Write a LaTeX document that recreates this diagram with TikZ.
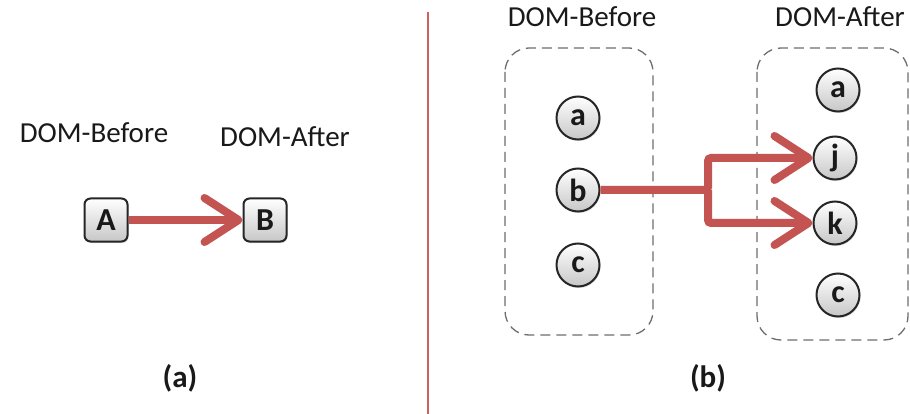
\documentclass[tikz,border=0pt]{standalone}
\usepackage{fontspec}
\setmainfont{Carlito}
\usetikzlibrary{arrows.meta,shadows}
\definecolor{arrred}{RGB}{196,84,82}
\definecolor{sepred}{RGB}{206,96,96}
\definecolor{boxgray}{RGB}{110,110,110}
\definecolor{txt}{RGB}{25,25,25}
\begin{document}
\begin{tikzpicture}[x=1pt,y=-1pt,
  lbl/.style={font=\fontsize{29}{32}\selectfont, text=txt, inner sep=0},
  captxt/.style={font=\bfseries\fontsize{31}{34}\selectfont, text=txt, inner sep=0},
  nodebase/.style={draw=black!85, line width=2pt, minimum size=43pt, inner sep=0,
    top color=white, bottom color=black!22, text=txt,
    font=\bfseries\fontsize{32}{32}\selectfont,
    drop shadow={opacity=0.25,shadow xshift=1pt,shadow yshift=-1.5pt}},
  sq/.style={nodebase, rectangle, rounded corners=6pt},
  circ/.style={nodebase, circle},
  arr/.style={draw=arrred, line width=8pt, rounded corners=3pt,
    -{Straight Barb[length=34pt,width=44pt,round]}},
  grp/.style={draw=boxgray, dash pattern=on 10pt off 6pt, line width=1.3pt, rounded corners=24pt}]

\useasboundingbox (0,0) rectangle (910,414);
\fill[white] (0,0) rectangle (910,414);

% separator
\draw[sepred, line width=2pt] (428,12) -- (428,414);

% ---- part (a)
\node[lbl, anchor=base] (lbA1) at (94,143) {DOM-Before};
\node[lbl, anchor=base] (lbA2) at (285,147) {DOM-After};
\node[sq] (A) at (106,220) {A};
\node[sq] (B) at (265,220) {B};
\draw[arr] (A) -- (B);
\node[captxt, anchor=base] (capa) at (180,387) {(a)};

% ---- part (b)
\node[lbl, anchor=base] (lbB1) at (582,27) {DOM-Before};
\node[lbl, anchor=base] (lbB2) at (840,27) {DOM-After};
\draw[grp] (505,48) rectangle (653,335);
\draw[grp] (757,48) rectangle (908,340);

\node[circ] (a1) at (578,118) {a};
\node[circ] (b1) at (578,190) {b};
\node[circ] (c1) at (578,265) {c};

\node[circ] (a2) at (838,90) {a};
\node[circ] (j2) at (835,158) {j};
\node[circ] (k2) at (835,223) {k};
\node[circ] (c2) at (838,295) {c};

\coordinate (fork) at (708,190);
\draw[arr] (b1) -- (fork) |- (j2);
\draw[arr] (fork) |- (k2);

\node[captxt, anchor=base] (capb) at (708,387) {(b)};
\end{tikzpicture}
\end{document}
